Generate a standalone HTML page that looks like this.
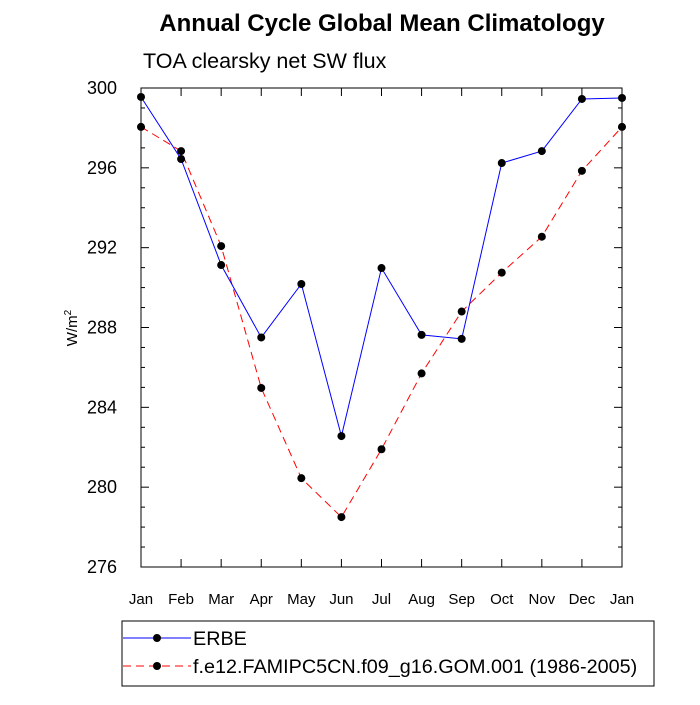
<!DOCTYPE html>
<html><head><meta charset="utf-8"><style>
body{margin:0;background:#fff}
svg text{font-family:"Liberation Sans",Arial,sans-serif;fill:#000}
</style></head><body>
<svg id="chart" width="700" height="700">
<text x="382" y="31" font-size="24" font-weight="bold" text-anchor="middle">Annual Cycle Global Mean Climatology</text>
<text x="143" y="68" font-size="21.5">TOA clearsky net SW flux</text>
<text transform="translate(77,328) rotate(-90)" font-size="15" text-anchor="middle">W/m<tspan font-size="10" dy="-6">2</tspan></text>
<g id="axes"></g>
<g id="series"></g>
<g id="legend"></g>
</svg>
<script>
const months=["Jan","Feb","Mar","Apr","May","Jun","Jul","Aug","Sep","Oct","Nov","Dec","Jan"];
const erbe=[299.55,296.44,291.13,287.5,290.18,282.56,290.98,287.63,287.43,296.24,296.84,299.45,299.5];
const model=[298.05,296.84,292.08,284.97,280.45,278.5,281.9,285.7,288.8,290.75,292.55,295.85,298.05];
const yTicks=[276,280,284,288,292,296,300];
const X0=141,X1=622,Y0=567,Y1=88,YMIN=276,YMAX=300;
const xs=i=>X0+(X1-X0)*i/(months.length-1);
const ys=v=>Y0-(Y0-Y1)*(v-YMIN)/(YMAX-YMIN);
const NS="http://www.w3.org/2000/svg";
function mk(t,a,p){const e=document.createElementNS(NS,t);for(const k in a)e.setAttribute(k,a[k]);p.appendChild(e);return e;}
const ax=document.getElementById('axes');
const frame=mk('rect',{x:X0,y:Y1,width:X1-X0,height:Y0-Y1,fill:'none',stroke:'#000','stroke-width':1},ax);


for(let v=YMIN;v<=YMAX;v++){
  const y=ys(v),L=(v%4===0)?8:4;
  mk('line',{x1:X0,y1:y,x2:X0+L,y2:y,stroke:'#000'},ax);
  mk('line',{x1:X1,y1:y,x2:X1-L,y2:y,stroke:'#000'},ax);
}
yTicks.forEach(v=>{
  const t=mk('text',{x:X0-24,y:ys(v)+6,'font-size':18,'text-anchor':'end'},ax);
  t.textContent=v;
  
  
});
months.forEach((m,i)=>{
  const x=xs(i);
  mk('line',{x1:x,y1:Y0,x2:x,y2:Y0-8,stroke:'#000'},ax);
  mk('line',{x1:x,y1:Y1,x2:x,y2:Y1+8,stroke:'#000'},ax);
  const t=mk('text',{x:x,y:Y0+37,'font-size':15,'text-anchor':'middle'},ax);
  t.textContent=m;
  
  
});
const sg=document.getElementById('series');
function series(vals,color,dash,name){
  const g=mk('g',{},sg);
  
  
  const a={points:vals.map((v,i)=>xs(i)+','+ys(v)).join(' '),fill:'none',stroke:color,'stroke-width':1};
  if(dash)a['stroke-dasharray']=dash;
  mk('polyline',a,g);
  vals.forEach((v,i)=>{
    const c=mk('circle',{cx:xs(i),cy:ys(v),r:4,fill:'#000'},g);
    
    
  });
}
series(model,'#ff0000','8,5','model-series');
series(erbe,'#0000ff',null,'erbe-series');
const lg=document.getElementById('legend');


mk('rect',{x:122,y:621,width:532,height:65,fill:'none',stroke:'#000'},lg);
mk('line',{x1:123,y1:638,x2:191,y2:638,stroke:'#0000ff'},lg);
mk('circle',{cx:157,cy:638,r:4,fill:'#000'},lg);
const t1=mk('text',{x:193,y:645,'font-size':19.8},lg);t1.textContent='ERBE';


mk('line',{x1:123,y1:666,x2:191,y2:666,stroke:'#ff0000','stroke-dasharray':'8,5'},lg);
mk('circle',{cx:157,cy:666,r:4,fill:'#000'},lg);
const t2=mk('text',{x:193,y:673,'font-size':19.8},lg);t2.textContent='f.e12.FAMIPC5CN.f09_g16.GOM.001 (1986-2005)';


</script>
</body></html>
